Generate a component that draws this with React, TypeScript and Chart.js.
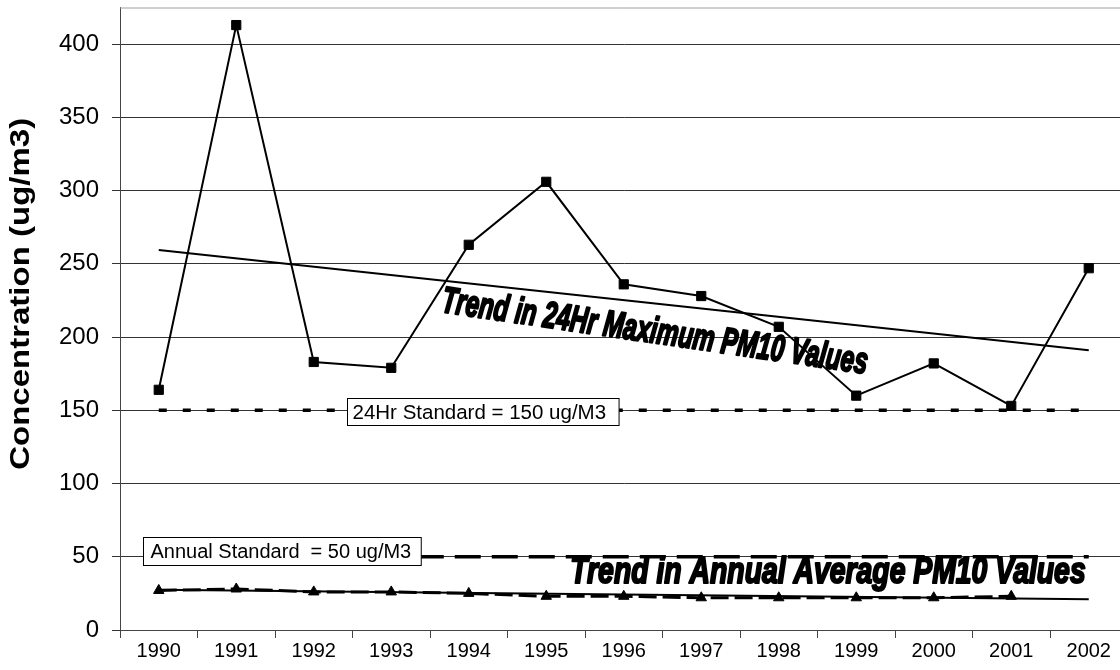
import { useEffect, useRef } from 'react';
import { Chart, registerables } from 'chart.js';

Chart.register(...registerables);

const years = ['1990', '1991', '1992', '1993', '1994', '1995', '1996', '1997', '1998', '1999', '2000', '2001', '2002'];
const max24hr = [164, 413, 183, 179, 263, 306, 236, 228, 207, 160, 182, 153, 247];
const annualAvg = [27, 28, 26, 26, 25, 23, 23, 22, 22, 22, 22, 23, null];
const trend24hr = [259.5, null, null, null, null, null, null, null, null, null, null, null, 191];
const trendAnnual = [27.5, null, null, null, null, null, null, null, null, null, null, null, 21];
const std24hr = [150, null, null, null, null, null, null, null, null, null, null, null, 150];
const stdAnnual = [50, null, null, null, null, null, null, null, null, null, null, null, 50];
const yTicks = [0, 50, 100, 150, 200, 250, 300, 350, 400];
const yMax = 425;

const yTitle = 'Concentration (ug/m3)';
const std24Label = '24Hr Standard = 150 ug/M3';
const stdAnnualLabel = 'Annual Standard  = 50 ug/M3';
const trend24Label = 'Trend in 24Hr Maximum PM10 Values';
const trendAnnualLabel = 'Trend in Annual Average PM10 Values';

const FONT = '"Liberation Sans", Arial, sans-serif';

const annotationPlugin = {
  id: 'annotations',
  beforeDatasetsDraw(chart: any) {
    const { ctx, chartArea } = chart;
    ctx.save();
    ctx.strokeStyle = '#a0a0a0';
    ctx.lineWidth = 1;
    ctx.beginPath();
    ctx.moveTo(chartArea.left, chartArea.top + 0.5);
    ctx.lineTo(chartArea.right, chartArea.top + 0.5);
    ctx.stroke();
    ctx.restore();
  },
  afterDraw(chart: any) {
    const { ctx, chartArea } = chart;
    ctx.save();
    ctx.font = `bold 27px ${FONT}`;
    const w = ctx.measureText(yTitle).width;
    const cy = chartArea.top + (chartArea.bottom - chartArea.top) * 0.46;
    ctx.translate(22, cy);
    ctx.rotate(-Math.PI / 2);
    ctx.scale(352 / w, 1);
    ctx.fillStyle = '#000';
    ctx.textAlign = 'center';
    ctx.textBaseline = 'middle';
    ctx.fillText(yTitle, 0, 0);
    ctx.restore();
  },
  afterDatasetsDraw(chart: any) {
    const { ctx } = chart;
    const xs = chart.scales.x;
    const ys = chart.scales.y;

    const box = (text: string, xi: number, yv: number, padL: number, padR: number, h: number, size: number) => {
      ctx.save();
      ctx.font = `${size}px ${FONT}`;
      const w = ctx.measureText(text).width;
      const left = Math.round(xs.getPixelForValue(xi)) + 0.5;
      const cy = ys.getPixelForValue(yv);
      const top = Math.round(cy - h / 2) + 0.5;
      ctx.fillStyle = '#ffffff';
      ctx.fillRect(left, top, w + padL + padR, h);
      ctx.strokeStyle = '#000000';
      ctx.lineWidth = 1;
      ctx.strokeRect(left, top, w + padL + padR, h);
      ctx.fillStyle = '#000000';
      ctx.textBaseline = 'middle';
      ctx.textAlign = 'left';
      ctx.fillText(text, left + padL, top + h / 2 + 1);
      ctx.restore();
    };

    box(std24Label, 2.43, 149, 5, 13, 27, 20.5);
    box(stdAnnualLabel, -0.2, 54, 7, 10, 28, 20);

    const condensed = (text: string, cx: number, cy: number, targetW: number, size: number, angle: number) => {
      ctx.save();
      ctx.font = `italic bold ${size}px ${FONT}`;
      const w = ctx.measureText(text).width;
      ctx.translate(cx, cy);
      ctx.rotate(angle);
      ctx.scale(targetW / w, 1);
      ctx.fillStyle = '#000000';
      ctx.strokeStyle = '#000000';
      ctx.lineWidth = 2.2;
      ctx.lineJoin = 'round';
      ctx.textAlign = 'center';
      ctx.textBaseline = 'middle';
      ctx.strokeText(text, 0, 0);
      ctx.fillText(text, 0, 0);
      ctx.restore();
    };

    condensed(trend24Label, xs.getPixelForValue(6.4), ys.getPixelForValue(203), 430, 37, (8.3 * Math.PI) / 180);
    const l2 = xs.getPixelForValue(5.31);
    const r2 = xs.getPixelForValue(11.96);
    condensed(trendAnnualLabel, (l2 + r2) / 2, ys.getPixelForValue(39), r2 - l2, 37, 0);
  },
};

export default function App() {
  const ref = useRef<HTMLCanvasElement | null>(null);

  useEffect(() => {
    document.body.style.margin = '0';
    document.body.style.overflow = 'hidden';
    const canvas = ref.current!;
    const chart = new Chart(canvas, {
      type: 'line',
      data: {
        labels: years,
        datasets: [
          {
            label: 'Annual standard',
            data: stdAnnual,
            borderColor: '#000',
            borderWidth: 3.5,
            borderDash: [26, 11],
            pointRadius: 0,
            spanGaps: true,
            order: 6,
          },
          {
            label: '24Hr standard',
            data: std24hr,
            borderColor: '#000',
            borderWidth: 3.5,
            borderDash: [8, 16],
            pointRadius: 0,
            spanGaps: true,
            order: 5,
          },
          {
            label: 'Annual average',
            data: annualAvg,
            borderColor: '#000',
            backgroundColor: '#000',
            borderWidth: 3,
            borderDash: [18, 6],
            pointStyle: 'triangle',
            pointRadius: 6,
            pointBorderWidth: 1,
            spanGaps: false,
            order: 4,
          },
          {
            label: 'Annual trend',
            data: trendAnnual,
            borderColor: '#000',
            borderWidth: 2,
            pointRadius: 0,
            spanGaps: true,
            order: 3,
          },
          {
            label: '24Hr trend',
            data: trend24hr,
            borderColor: '#000',
            borderWidth: 2,
            pointRadius: 0,
            spanGaps: true,
            order: 2,
          },
          {
            label: '24Hr maximum',
            data: max24hr,
            borderColor: '#000',
            backgroundColor: '#000',
            borderWidth: 2,
            pointStyle: 'rect',
            pointRadius: 6.5,
            pointBorderWidth: 1,
            order: 1,
          },
        ],
      },
      options: {
        responsive: false,
        animation: false,
        layout: { padding: { top: 7, right: 0, left: 0, bottom: 0 } },
        plugins: {
          legend: { display: false },
          tooltip: { enabled: false },
        },
        scales: {
          x: {
            type: 'category',
            offset: true,
            grid: {
              offset: true,
              drawOnChartArea: false,
              drawTicks: true,
              tickLength: 8,
              color: '#444',
            },
            border: { display: true, color: '#444', width: 1 },
            ticks: {
              color: '#000',
              font: { family: FONT, size: 20 },
              padding: 1,
              maxRotation: 0,
              autoSkip: false,
            },
            afterFit: (s: any) => {
              s.height = 40;
              s.paddingLeft = 0;
              s.paddingRight = 0;
            },
          },
          y: {
            type: 'linear',
            min: 0,
            max: yMax,
            afterBuildTicks: (s: any) => {
              s.ticks = yTicks.map((v) => ({ value: v }));
            },
            grid: {
              color: '#333',
              tickLength: 8,
              lineWidth: 1,
            },
            border: { display: true, color: '#444', width: 1 },
            ticks: {
              color: '#000',
              font: { family: FONT, size: 24 },
              padding: 13,
            },
            afterFit: (s: any) => {
              s.width = 120;
              s.paddingTop = 0;
              s.paddingBottom = 0;
            },
          },
        },
      },
      plugins: [annotationPlugin],
    });
    return () => chart.destroy();
  }, []);

  return (
    <div style={{ position: 'fixed', left: 0, top: 0, width: 1120, height: 670, overflow: 'hidden', background: '#fff' }}>
      <canvas ref={ref} width={1135} height={670} style={{ display: 'block', width: 1135, height: 670 }} />
    </div>
  );
}
